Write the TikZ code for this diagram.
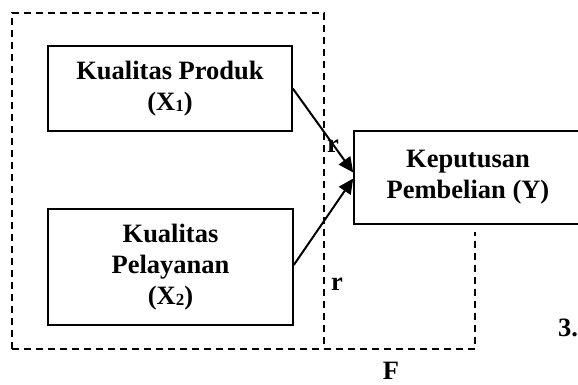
\documentclass[tikz,border=0pt]{standalone}
\usepackage{fontspec}
\setmainfont{Liberation Serif}
\usetikzlibrary{arrows.meta}
\newcommand{\subdig}[1]{\raisebox{-1.2pt}{\fontsize{17}{17}\selectfont #1}}
\begin{document}
\begin{tikzpicture}[x=1pt,y=-1pt,
  box/.style={draw, line width=1.6pt, align=center, inner sep=0pt,
    font=\fontsize{26.5}{31}\selectfont\bfseries},
  dline/.style={line width=1.5pt, dash pattern=on 7pt off 5pt},
  arr/.style={line width=2pt, -{Triangle[length=15pt,width=14pt]}},
  lbl/.style={font=\fontsize{26.5}{31}\selectfont\bfseries, inner sep=0pt}]
\useasboundingbox (0,0) rectangle (578,385);
% dashed frame
\coordinate (a1) at (12,349);
\coordinate (a2) at (12,13);
\coordinate (a3) at (324,13);
\coordinate (a4) at (324,349);
\coordinate (b1) at (475,349);
\coordinate (b2) at (475,232);
\draw[dline] (a1) -- (a2) -- (a3) -- (a4);
\draw[dline] (a1) -- (b1) -- (b2);
% boxes
\node[box, minimum width=244pt, minimum height=85pt] (x1) at (170,88.5)
  {Kualitas Produk\\(X\subdig{1})};
\node[box, minimum width=245pt, minimum height=116pt] (x2) at (170.5,267)
  {Kualitas\\Pelayanan\\(X\subdig{2})};
\node[box, minimum width=228pt, minimum height=93pt] (y) at (468,177.5)
  {Keputusan\\Pembelian (Y)};
% arrows
\draw[arr] (x1.east) -- ([yshift=5pt]y.west);
\draw[arr] ([yshift=2pt]x2.east) -- ([yshift=-1pt]y.west);
% labels
\node[lbl] (r1) at (333,146) {r};
\node[lbl] (r2) at (337,284.5) {r};
\node[lbl] (f) at (391,371) {F};
\node[lbl, anchor=west] (n3) at (558,328) {3.};
\end{tikzpicture}
\end{document}
